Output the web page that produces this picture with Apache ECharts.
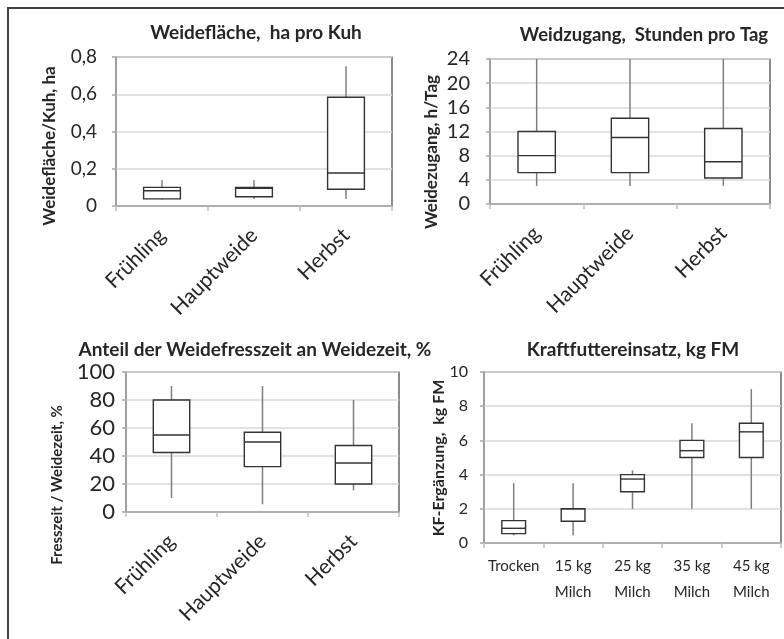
<!DOCTYPE html>
<html>
<head>
<meta charset="utf-8">
<script src="https://cdn.jsdelivr.net/npm/echarts@6/dist/echarts.min.js"></script>
<style>
html,body{margin:0;padding:0;background:#fff;}
#chart{width:784px;height:639px;}
</style>
</head>
<body>
<div id="chart"></div>
<script>
// ---- Data (min, Q1, median, Q3, max) ----
const seasonCats = ['Frühling', 'Hauptweide', 'Herbst'];
const areaPerCow = [
  [0.035, 0.038, 0.082, 0.100, 0.14],
  [0.038, 0.050, 0.095, 0.100, 0.14],
  [0.038, 0.090, 0.177, 0.584, 0.75]
];
const accessHours = [
  [3, 5.2, 8, 12, 24],
  [3, 5.2, 11, 14.2, 24],
  [3, 4.3, 7, 12.5, 24]
];
const grazingShare = [
  [10, 42.5, 55, 80, 90],
  [5.5, 32.4, 50, 57, 90],
  [15.5, 20, 35, 47.5, 80]
];
const kfCats = ['Trocken', '15 kg\nMilch', '25 kg\nMilch', '35 kg\nMilch', '45 kg\nMilch'];
const kfAmount = [
  [0.45, 0.55, 0.86, 1.31, 3.5],
  [0.45, 1.27, 2.0, 2.0, 3.5],
  [2, 3, 3.74, 4, 4.25],
  [2, 5, 5.4, 6, 7],
  [2, 5, 6.5, 7, 9]
];
const titles = [
  'Weidefläche,  ha pro Kuh',
  'Weidzugang,  Stunden pro Tag',
  'Anteil der Weidefresszeit an Weidezeit, %',
  'Kraftfuttereinsatz, kg FM'
];
const yNames = [
  'Weidefläche/Kuh, ha',
  'Weidezugang, h/Tag',
  'Fresszeit / Weidezeit, %',
  'KF-Ergänzung,  kg FM'
];

// ---- Styling ----
const FONT = 'Lato, "Open Sans", sans-serif';
const TXT = '#262626';
const grids = [
  {left: 116, top: 57, width: 276, height: 149},
  {left: 490, top: 59, width: 280, height: 145},
  {left: 126, top: 372, width: 273, height: 140},
  {left: 484, top: 372, width: 297, height: 171}
];
const yCfg = [
  {min: 0, max: 0.8, interval: 0.2, fmt: v => v === 0 ? '0' : v.toFixed(1).replace('.', ','), size: 19, margin: 19},
  {min: 0, max: 24, interval: 4, fmt: v => String(v), size: 20, margin: 20},
  {min: 0, max: 100, interval: 20, fmt: v => String(v), size: 22, margin: 11},
  {min: 0, max: 10, interval: 2, fmt: v => String(v), size: 16, margin: 16}
];
const titleCfg = [
  {x: 251, y: 30, size: 19},
  {x: 639, y: 32, size: 18.5},
  {x: 250, y: 347, size: 19},
  {x: 628, y: 347, size: 19}
];
const yNameCfg = [
  {x: 50, y: 146, size: 17},
  {x: 432, y: 152, size: 17},
  {x: 57, y: 485, size: 15},
  {x: 439, y: 458, size: 16}
];

function toSeriesData(arr) {
  return arr.map((d, i) => [i].concat(d));
}

function renderBox(params, api) {
  const i = api.value(0);
  const lo = api.coord([i, api.value(1)]);
  const q1 = api.coord([i, api.value(2)]);
  const med = api.coord([i, api.value(3)]);
  const q3 = api.coord([i, api.value(4)]);
  const hi = api.coord([i, api.value(5)]);
  const bw = api.size([1, 0])[0] * 0.4;
  const x = lo[0];
  const whisk = {stroke: '#7f7f7f', lineWidth: 1.5};
  const boxS = {stroke: '#333333', lineWidth: 1.4};
  return {
    type: 'group',
    children: [
      {type: 'line', shape: {x1: x, y1: hi[1], x2: x, y2: q3[1]}, style: whisk},
      {type: 'line', shape: {x1: x, y1: q1[1], x2: x, y2: lo[1]}, style: whisk},
      {type: 'rect', shape: {x: x - bw / 2, y: q3[1], width: bw, height: q1[1] - q3[1]},
        style: Object.assign({fill: '#fff'}, boxS)},
      {type: 'line', shape: {x1: x - bw / 2, y1: med[1], x2: x + bw / 2, y2: med[1]}, style: boxS}
    ]
  };
}

const datasets = [areaPerCow, accessHours, grazingShare, kfAmount];
const catsList = [seasonCats, seasonCats, seasonCats, kfCats];

const option = {
  animation: false,
  backgroundColor: '#fff',
  textStyle: {fontFamily: FONT},
  title: titleCfg.map((t, k) => ({
    text: titles[k],
    left: t.x,
    top: t.y - t.size * 0.6,
    textAlign: 'center',
    textStyle: {fontFamily: FONT, fontWeight: 'bold', fontSize: t.size, color: TXT}
  })),
  grid: grids.map(g => Object.assign({}, g, {
    show: true, borderColor: '#404040', borderWidth: 1.2, backgroundColor: 'transparent'
  })),
  xAxis: catsList.map((cats, k) => ({
    type: 'category',
    gridIndex: k,
    data: cats,
    boundaryGap: true,
    axisLine: {lineStyle: {color: '#a6a6a6', width: 1.5}},
    axisTick: {show: true, length: 5, lineStyle: {color: '#bfbfbf', width: 1.5}},
    axisLabel: k < 3 ? {
      rotate: 45, margin: 26, fontSize: 21, color: TXT, fontFamily: FONT, interval: 0
    } : {
      rotate: 0, margin: 10, fontSize: 15, lineHeight: 26, color: TXT, fontFamily: FONT, interval: 0
    },
    splitLine: {show: false}
  })),
  yAxis: yCfg.map((c, k) => ({
    type: 'value',
    gridIndex: k,
    min: c.min, max: c.max, interval: c.interval,
    axisLine: {show: true, lineStyle: {color: '#a6a6a6', width: 1.5}},
    axisTick: {show: true, length: 4, lineStyle: {color: '#a6a6a6', width: 1.5}},
    axisLabel: {formatter: c.fmt, fontSize: c.size, color: TXT, fontFamily: FONT, margin: c.margin},
    splitLine: {show: true, lineStyle: {color: '#d9d9d9', width: 1.5}}
  })),
  series: datasets.map((d, k) => ({
    type: 'custom',
    xAxisIndex: k,
    yAxisIndex: k,
    renderItem: renderBox,
    encode: {x: 0, y: [1, 2, 3, 4, 5]},
    data: toSeriesData(d),
    z: 3
  })),
  graphic: [
    {type: 'rect', shape: {x: 8, y: 8, width: 800, height: 660},
      style: {fill: 'none', stroke: '#404040', lineWidth: 2}, silent: true}
  ].concat(yNameCfg.map((c, k) => ({
    type: 'text', x: c.x, y: c.y, rotation: Math.PI / 2,
    style: {text: yNames[k], font: 'bold ' + c.size + 'px ' + FONT, fill: TXT, align: 'center', verticalAlign: 'middle'}
  })))
};

const chart = echarts.init(document.getElementById('chart'), null, {renderer: 'canvas'});
chart.setOption(option);
</script>
</body>
</html>
